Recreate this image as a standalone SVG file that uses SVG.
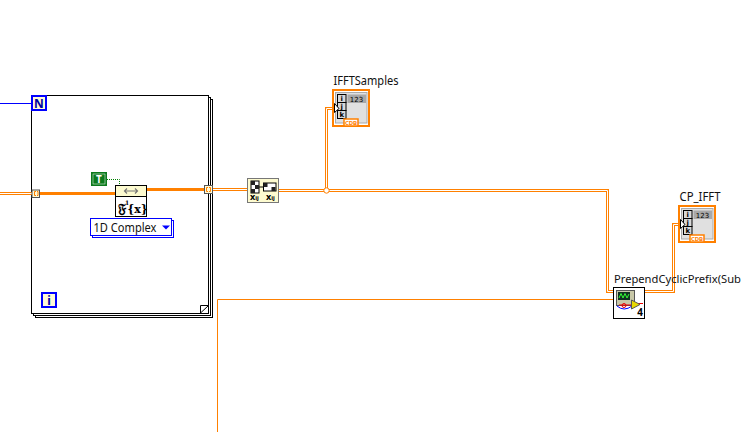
<svg xmlns="http://www.w3.org/2000/svg" width="743" height="432" viewBox="0 0 743 432">
<style>
text{font-family:"Noto Sans","Liberation Sans",sans-serif;fill:#111}
.lbl{font-size:12px}
.frame{fill:#fff;stroke:#000;stroke-width:1}
.dbl{fill:none;stroke:#ff8000;stroke-width:3}
.dblc{fill:none;stroke:#fff;stroke-width:1}
.thick{fill:none;stroke:#ff8000;stroke-width:3}
.thin{fill:none;stroke:#ff8000;stroke-width:1}
.tun{fill:#fffbd6;stroke:#555;stroke-width:1}
.tb{fill:none;stroke:#ff8000;stroke-width:1}
.cell{fill:#d8d8d8;stroke:#000;stroke-width:1}
.outer{fill:#fff;stroke:#ff8000;stroke-width:2}
.body{fill:#e0e0e0;stroke:#aaa;stroke-width:1}
.num{fill:#a8a8a8}
.cdb{fill:#fff;stroke:#ff8000;stroke-width:1.500}
.arrow{fill:#fff;stroke:#000;stroke-width:1}
.mono{font-family:"DejaVu Sans",sans-serif;font-size:7px;font-weight:bold;text-anchor:middle;fill:#000}
.cdbt{font-size:6px;text-anchor:middle;fill:#ff8000;font-weight:bold}
</style>
<g id="loop">
<rect class="frame" x="35.500" y="99.500" width="177" height="218"/>
<rect class="frame" x="33.500" y="97.500" width="177" height="218"/>
<rect class="frame" x="31.500" y="95.500" width="177" height="218"/>
<path d="M200.500 313V305.500H208.500Z" fill="#fff" stroke="#000"/>
</g>
<g id="connectors">
<path d="M0 103.500H32" fill="none" stroke="#0000ff" stroke-width="1"/>
<path class="dbl" d="M0 193.500H32"/><path class="dblc" d="M0 193.500H32"/>
<path class="thick" d="M40 193.500H115"/>
<path class="thick" d="M147 189.500H204"/>
<path class="dbl" d="M213 189.500H247"/><path class="dblc" d="M213 189.500H247"/>
<path class="dbl" d="M279 190.500H607.500V291.500H614"/><path class="dblc" d="M279 190.500H607.500V291.500H614"/>
<path class="dbl" d="M326.500 190.500V108.500H337"/><path class="dblc" d="M326.500 190.500V108.500H337"/>
<path class="dbl" d="M645 291.500H673.500V224.500H683"/><path class="dblc" d="M645 291.500H673.500V224.500H683"/>
<path class="thin" d="M217.500 432V299.500H614"/>
<path d="M107 179.500H119.500V185" fill="none" stroke="#008000" stroke-width="1" stroke-dasharray="1 1"/>
<circle cx="326.500" cy="190.500" r="2.700" fill="#fff" stroke="#ff8000"/>
</g>
<g id="count-N">
<rect x="32" y="96" width="14" height="14" fill="#fffbd6" stroke="#0000ff" stroke-width="2"/>
<text x="39" y="107.500" text-anchor="middle" font-size="12" style="fill:#0000a0;font-weight:bold">N</text>
</g>
<g id="index-i">
<rect x="42" y="293" width="14" height="14" fill="#fffbd6" stroke="#0000ff" stroke-width="2"/>
<text x="49" y="304.500" text-anchor="middle" font-size="12" style="fill:#0000a0;font-weight:bold">i</text>
</g>
<g id="tunnel-left">
<rect class="tun" x="32" y="190" width="7.500" height="7.500"/>
<path class="tb" d="M36 191.500H34.500V195.500H36M37 191.500H38V195.500H37"/>
</g>
<g id="tunnel-right">
<rect class="tun" x="204.500" y="185.500" width="8" height="8"/>
<path class="tb" d="M208 187.500H206.500V191.500H208M209 187.500H210.500V191.500H209"/>
</g>
<g id="bool-true">
<rect x="91" y="172" width="16" height="14" fill="#0b7a1c"/>
<rect x="93" y="174" width="12" height="10" fill="#0b7a1c" stroke="#fff" stroke-width="0.500"/>
<text x="99" y="183" text-anchor="middle" font-size="10" style="fill:#fff;font-weight:bold">T</text>
</g>
<g id="ifft">
<rect x="115.500" y="185.500" width="31" height="31" fill="#fff" stroke="#000"/>
<rect x="116" y="186" width="30" height="10" fill="#fdfbd0"/>
<path d="M115.500 196.500H146.500" stroke="#000"/>
<path d="M125 191H137M127 188.500L124.500 191L127 193.500M135 188.500L137.500 191L135 193.500" fill="none" stroke="#777" stroke-width="1.200"/>
<text x="118" y="212.500" font-size="13" style="font-family:'DejaVu Serif',serif;font-weight:bold;fill:#000">𝔉<tspan font-size="6" dy="-8" dx="-1">1</tspan><tspan font-size="11" dy="8" dx="-2">{x}</tspan></text>
</g>
<g id="ring">
<rect x="92.500" y="220.500" width="81" height="17" fill="#fff" stroke="#0000ff"/>
<rect x="90.500" y="218.500" width="81" height="17" fill="#fff" stroke="#0000ff"/>
<text x="93.500" y="232" font-size="12" textLength="63" lengthAdjust="spacingAndGlyphs">1D Complex</text>
<path d="M162 225.500H170L166 229.500Z" fill="#0000ff"/>
</g>
<g id="reshape">
<rect x="247.500" y="178.500" width="31" height="24" fill="#fdfbd0" stroke="#777"/>
<rect x="251" y="181" width="8" height="12" fill="#fff" stroke="#000"/>
<path d="M251 181h4v4h-4zM255 185h4v4h-4zM255 189h-4v4h4z" fill="#222"/>
<rect x="263.500" y="183" width="12.500" height="8" fill="#fff" stroke="#000"/>
<path d="M263.500 183h4v4h-4zM271.500 187h4v4h-4z" fill="#222"/>
<path d="M259 187H263.500" stroke="#000"/>
<text x="250" y="200" font-size="9" style="font-weight:bold;fill:#000">x<tspan font-size="6">ij</tspan></text>
<text x="266" y="200" font-size="9" style="font-weight:bold;fill:#000">x<tspan font-size="6">ij</tspan></text>
</g>
<g id="IFFTSamples">
<text class="lbl" x="333.500" y="85" textLength="65" lengthAdjust="spacingAndGlyphs">IFFTSamples</text>
<rect class="outer" x="333" y="90" width="36" height="36"/>
<rect class="body" x="335.500" y="92.500" width="31.500" height="30.500"/>
<rect x="337.500" y="94.500" width="8.500" height="8" class="cell"/><rect x="337.500" y="102.500" width="8.500" height="8" class="cell"/><rect x="337.500" y="110.500" width="8.500" height="8" class="cell"/>
<text class="mono" x="341.800" y="101">i</text><text class="mono" x="341.800" y="109">j</text><text class="mono" x="341.800" y="117">k</text>
<rect class="num" x="347.500" y="94.500" width="18.500" height="8.500"/>
<text class="mono" x="356.500" y="102" style="font-weight:normal">123</text>
<rect class="cdb" x="344" y="119" width="14" height="7"/>
<text class="cdbt" x="351" y="125.300">CDB</text>
<path class="arrow" d="M334.500 103.500L339 108.500L334.500 112.500Z"/>
</g>
<g id="CP_IFFT">
<text class="lbl" x="679.500" y="201" textLength="41" lengthAdjust="spacingAndGlyphs">CP_IFFT</text>
<rect class="outer" x="679" y="206" width="36" height="36"/>
<rect class="body" x="681.500" y="208.500" width="31.500" height="30.500"/>
<rect x="683.500" y="210.500" width="8.500" height="8" class="cell"/><rect x="683.500" y="218.500" width="8.500" height="8" class="cell"/><rect x="683.500" y="226.500" width="8.500" height="8" class="cell"/>
<text class="mono" x="687.800" y="217">i</text><text class="mono" x="687.800" y="225">j</text><text class="mono" x="687.800" y="233">k</text>
<rect class="num" x="693.500" y="210.500" width="18.500" height="8.500"/>
<text class="mono" x="702.500" y="218" style="font-weight:normal">123</text>
<rect class="cdb" x="690" y="235" width="14" height="7"/>
<text class="cdbt" x="697" y="241.300">CDB</text>
<path class="arrow" d="M680.500 219.500L685 224.500L680.500 228.500Z"/>
</g>
<g id="prepend">
<text x="614" y="283" font-size="11" textLength="127" lengthAdjust="spacingAndGlyphs">PrependCyclicPrefix(Sub</text>
<rect x="613.500" y="287.500" width="31" height="31" fill="#fff" stroke="#000" stroke-width="1"/>
<rect x="616.500" y="290.500" width="18" height="15" fill="#c8c8a8" stroke="#555"/>
<rect x="618" y="292" width="12" height="8" fill="#103020"/>
<path d="M619 298L621 293.500L623 298L625 293.500L627 298L629 294" fill="none" stroke="#3f3" stroke-width="1"/>
<path d="M617 306Q624 312 632 306" fill="none" stroke="#00f"/>
<circle cx="624" cy="305.500" r="2" fill="none" stroke="#e00"/>
<path d="M619 305H632M638 303.500H643" fill="none" stroke="#e00"/>
<path d="M631.500 300L640 304.500L631.500 309Z" fill="#e8d800" stroke="#555"/>
<text x="640" y="316" text-anchor="middle" font-size="10" style="font-weight:bold;fill:#000">4</text>
</g>
</svg>
